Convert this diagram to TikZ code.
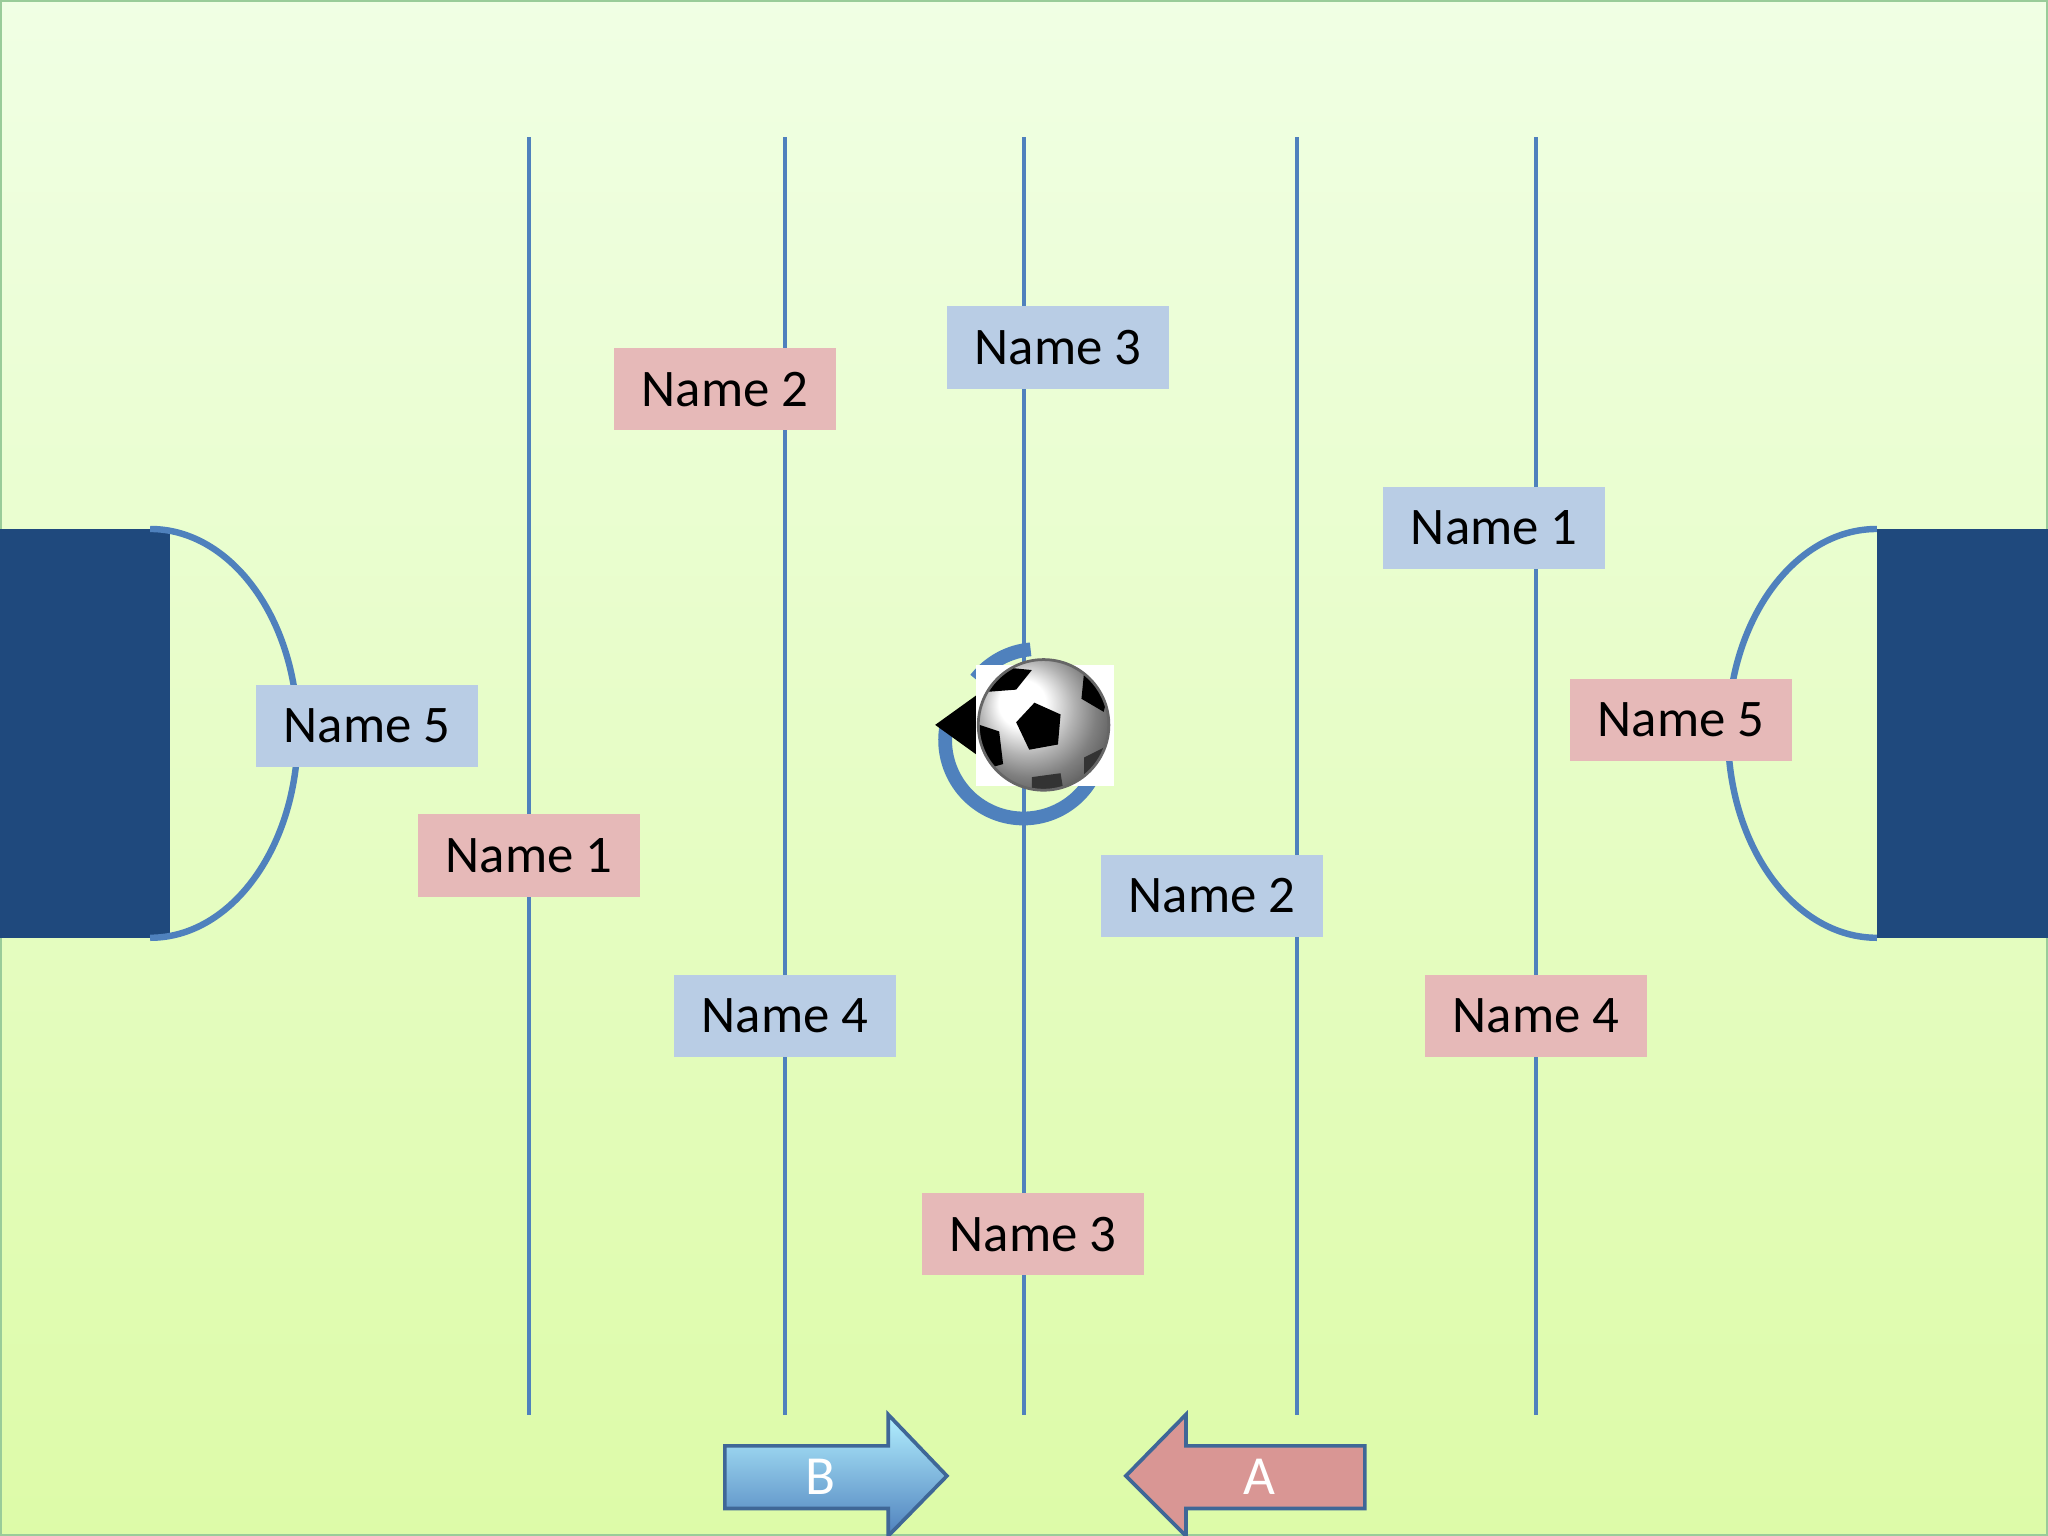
\documentclass[tikz,border=0pt]{standalone}
\usepackage{fontspec}
\setmainfont{Carlito}
\usetikzlibrary{arrows.meta}
\definecolor{bluebox}{HTML}{B9CDE5}
\definecolor{redbox}{HTML}{E6B9B8}
\definecolor{lineblue}{HTML}{4F81BD}
\definecolor{goal}{HTML}{1F497D}
\definecolor{bgtop}{HTML}{F0FFE4}
\definecolor{bgbot}{HTML}{DDFBA8}
\definecolor{redarrow}{HTML}{D99694}
\tikzset{
  lbl/.style={minimum width=1.7cm,minimum height=0.63cm,inner sep=0pt,font=\fontsize{11.5}{13}\selectfont},
  bl/.style={lbl,fill=bluebox},
  rd/.style={lbl,fill=redbox},
  rod/.style={draw=lineblue,line width=0.9pt}
}
\begin{document}
\begin{tikzpicture}[x=0.01cm,y=-0.01cm]
\useasboundingbox (0,0) rectangle (1568,1176);
\shade[top color=bgtop,bottom color=bgbot] (0,0) rectangle (1568,1176);
\draw[green!50!black!40,line width=0.6pt] (0.5,0.5) rectangle (1567.5,1175.5);
\foreach \x in {405,601,784,993,1176}{\draw[rod] (\x,105) -- (\x,1083);}
% goals
\fill[goal] (0,405) rectangle (130,718);
\draw[lineblue,line width=1.4pt] (115,405) arc[start angle=-90,end angle=90,x radius=113,y radius=156.5];
\fill[goal] (1437,405) rectangle (1568,718);
\draw[lineblue,line width=1.4pt] (1437,405) arc[start angle=-90,end angle=-270,x radius=114,y radius=156.5];
% labels
\node[rd] (r2) at (555,298) {Name 2};
\node[bl] (b3) at (810,266) {Name 3};
\node[bl] (b1) at (1144,404) {Name 1};
\node[bl] (b5) at (281,556) {Name 5};
\node[rd] (r5) at (1287,551) {Name 5};
\node[rd] (r1) at (405,655) {Name 1};
\node[bl] (b2) at (928,686) {Name 2};
\node[bl] (b4) at (601,778) {Name 4};
\node[rd] (r4) at (1176,778) {Name 4};
\node[rd] (r3) at (791,945) {Name 3};
% circular arrow
\draw[lineblue,line width=3pt] (838,592) arc[start angle=25,end angle=190,radius=60];
\draw[lineblue,line width=3pt] (747,520) arc[start angle=-142,end angle=-95,radius=60];
\fill[black] (716,555) -- (748,532) -- (748,578) -- cycle;
% ball
\fill[white] (747,509) rectangle (853,602);
\begin{scope}
\clip (799,555) circle (50);
\shade[ball color=white] (799,555) circle (50);
\fill[black] (792,538) -- (812,547) -- (810,570) -- (788,574) -- (778,553) -- cycle;
\fill[black] (760,510) -- (790,513) -- (778,528) -- (752,530) -- cycle;
\fill[black] (750,555) -- (765,560) -- (768,585) -- (750,590) -- cycle;
\fill[black] (830,515) -- (850,525) -- (845,545) -- (828,535) -- cycle;
\fill[black!80] (830,580) -- (850,570) -- (850,600) -- (830,605) -- cycle;
\fill[black!80] (790,595) -- (812,592) -- (815,610) -- (790,610) -- cycle;
\end{scope}
\draw[black!60,line width=0.6pt] (799,555) circle (50);
% arrows
\draw[lineblue!80!black,line width=0.8pt,top color=blue!20!cyan!30!white,bottom color=lineblue]
  (555,1107) -- (680,1107) -- (680,1083) -- (725,1130) -- (680,1176) -- (680,1155) -- (555,1155) -- cycle;
\node[text=white,font=\fontsize{12}{14}\selectfont] (bb) at (628,1131) {B};
\draw[lineblue!80!black,line width=0.8pt,fill=redarrow]
  (1045,1107) -- (908,1107) -- (908,1083) -- (862,1130) -- (908,1176) -- (908,1155) -- (1045,1155) -- cycle;
\node[text=white,font=\fontsize{12}{14}\selectfont] (aa) at (964,1131) {A};
\end{tikzpicture}
\end{document}
